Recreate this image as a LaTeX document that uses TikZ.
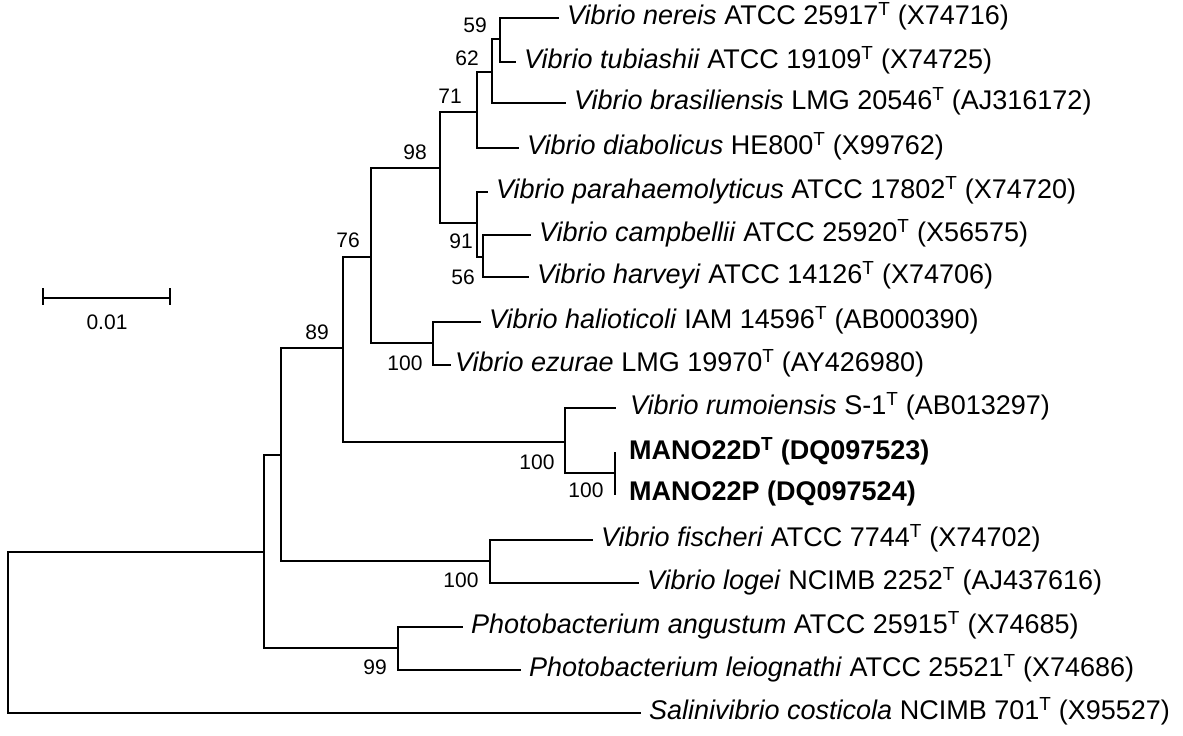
\documentclass[tikz,border=0pt]{standalone}
\usepackage{fontspec}
\setmainfont{Liberation Sans}
\begin{document}
\begin{tikzpicture}[x=1pt,y=-1pt,
  br/.style={line width=2.4pt,line cap=rect,line join=miter},
  bbr/.style={line width=2.8pt,line cap=rect,line join=miter},
  leaf/.style={anchor=west,inner sep=0pt,font=\fontsize{27}{32}\selectfont,text height=19pt,text depth=6pt},
  boot/.style={inner sep=0pt,font=\fontsize{21}{25}\selectfont}]
\useasboundingbox (0,0) rectangle (1183,736);
\fill[white] (0,0) rectangle (1183,736);
% internal nodes
\coordinate (R) at (8,632);
\coordinate (A) at (264,552);
\coordinate (B) at (281,455);
\coordinate (C) at (343,348);
\coordinate (D) at (371,257);
\coordinate (E) at (440,168);
\coordinate (G) at (477,112);
\coordinate (N62) at (492,72);
\coordinate (N59) at (500,39);
\coordinate (P) at (477,223);
\coordinate (N91) at (483,257);
\coordinate (H) at (433,343);
\coordinate (M) at (565,442);
\coordinate (MM) at (615,473);
\coordinate (F) at (490,561);
\coordinate (Ph) at (398,648);
% leaf ends
\coordinate (l1) at (558,18);
\coordinate (l2) at (515,62);
\coordinate (l3) at (565,103);
\coordinate (l4) at (518,148);
\coordinate (l5) at (487,192);
\coordinate (l6) at (530,235);
\coordinate (l7) at (528,277);
\coordinate (l8) at (480,322);
\coordinate (l9) at (450,365);
\coordinate (l10) at (615,408);
\coordinate (l11) at (615,453);
\coordinate (l12) at (615,494);
\coordinate (l13) at (592,540);
\coordinate (l14) at (638,583);
\coordinate (l15) at (462,627);
\coordinate (l16) at (520,670);
\coordinate (l17) at (640,713);
% branches
\draw[br] (R) |- (l17);
\draw[br] (R) |- (A);
\draw[bbr] (A) |- (B);
\draw[br] (A) |- (Ph);
\draw[bbr] (B) |- (C);
\draw[br] (B) |- (F);
\draw[br] (C) |- (D);
\draw[br] (C) |- (M);
\draw[br] (D) |- (E);
\draw[br] (D) |- (H);
\draw[bbr] (E) |- (G);
\draw[br] (E) |- (P);
\draw[br] (G) |- (N62);
\draw[br] (G) |- (l4);
\draw[br] (N62) |- (N59);
\draw[bbr] (N62) |- (l3);
\draw[br] (N59) |- (l1);
\draw[br] (N59) |- (l2);
\draw[br] (P) |- (l5);
\draw[br] (P) |- (N91);
\draw[br] (N91) |- (l6);
\draw[br] (N91) |- (l7);
\draw[bbr] (H) |- (l8);
\draw[br] (H) |- (l9);
\draw[br] (M) |- (l10);
\draw[bbr] (M) |- (MM);
\draw[br] (MM) |- (l11);
\draw[br] (MM) |- (l12);
\draw[br] (F) |- (l13);
\draw[br] (F) |- (l14);
\draw[br] (Ph) |- (l15);
\draw[br] (Ph) |- (l16);
% leaf labels
\node[leaf] (t1) at ([xshift=9pt]l1) {\textit{Vibrio nereis} ATCC 25917\textsuperscript{T} (X74716)};
\node[leaf] (t2) at ([xshift=9pt]l2) {\textit{Vibrio tubiashii} ATCC 19109\textsuperscript{T} (X74725)};
\node[leaf] (t3) at ([xshift=9pt]l3) {\textit{Vibrio brasiliensis} LMG 20546\textsuperscript{T} (AJ316172)};
\node[leaf] (t4) at ([xshift=9pt]l4) {\textit{Vibrio diabolicus} HE800\textsuperscript{T} (X99762)};
\node[leaf] (t5) at ([xshift=9pt]l5) {\textit{Vibrio parahaemolyticus} ATCC 17802\textsuperscript{T} (X74720)};
\node[leaf] (t6) at ([xshift=9pt]l6) {\textit{Vibrio campbellii} ATCC 25920\textsuperscript{T} (X56575)};
\node[leaf] (t7) at ([xshift=9pt]l7) {\textit{Vibrio harveyi} ATCC 14126\textsuperscript{T} (X74706)};
\node[leaf] (t8) at ([xshift=9pt]l8) {\textit{Vibrio halioticoli} IAM 14596\textsuperscript{T} (AB000390)};
\node[leaf] (t9) at ([xshift=5pt]l9) {\textit{Vibrio ezurae} LMG 19970\textsuperscript{T} (AY426980)};
\node[leaf] (t10) at ([xshift=15pt]l10) {\textit{Vibrio rumoiensis} S-1\textsuperscript{T} (AB013297)};
\node[leaf] (t11) at ([xshift=14pt]l11) {\textbf{MANO22D\textsuperscript{T} (DQ097523)}};
\node[leaf] (t12) at ([xshift=14pt]l12) {\textbf{MANO22P (DQ097524)}};
\node[leaf] (t13) at ([xshift=9pt]l13) {\textit{Vibrio fischeri} ATCC 7744\textsuperscript{T} (X74702)};
\node[leaf] (t14) at ([xshift=9pt]l14) {\textit{Vibrio logei} NCIMB 2252\textsuperscript{T} (AJ437616)};
\node[leaf] (t15) at ([xshift=9pt]l15) {\textit{Photobacterium angustum} ATCC 25915\textsuperscript{T} (X74685)};
\node[leaf] (t16) at ([xshift=9pt]l16) {\textit{Photobacterium leiognathi} ATCC 25521\textsuperscript{T} (X74686)};
\node[leaf] (t17) at ([xshift=9pt]l17) {\textit{Salinivibrio costicola} NCIMB 701\textsuperscript{T} (X95527)};
% bootstrap values
\node[boot] (b59) at (475,25) {59};
\node[boot] (b62) at (467,58) {62};
\node[boot] (b71) at (450,96) {71};
\node[boot] (b98) at (415,152) {98};
\node[boot] (b76) at (348,240) {76};
\node[boot] (b91) at (461,241) {91};
\node[boot] (b56) at (463,277) {56};
\node[boot] (b89) at (317,332) {89};
\node[boot] (b100a) at (405,363) {100};
\node[boot] (b100b) at (537,462) {100};
\node[boot] (b100c) at (586,490) {100};
\node[boot] (b100d) at (461,580) {100};
\node[boot] (b99) at (375,667) {99};
% scale bar
\coordinate (sb1) at (43,298);
\coordinate (sb2) at (170,298);
\draw[br,line cap=butt] (sb1) -- (sb2);
\draw[br,line cap=butt] ([yshift=10pt]sb1) -- ([yshift=-7pt]sb1);
\draw[br,line cap=butt] ([yshift=10pt]sb2) -- ([yshift=-7pt]sb2);
\node[boot] (sbl) at (107,322) {0.01};
\end{tikzpicture}
\end{document}
